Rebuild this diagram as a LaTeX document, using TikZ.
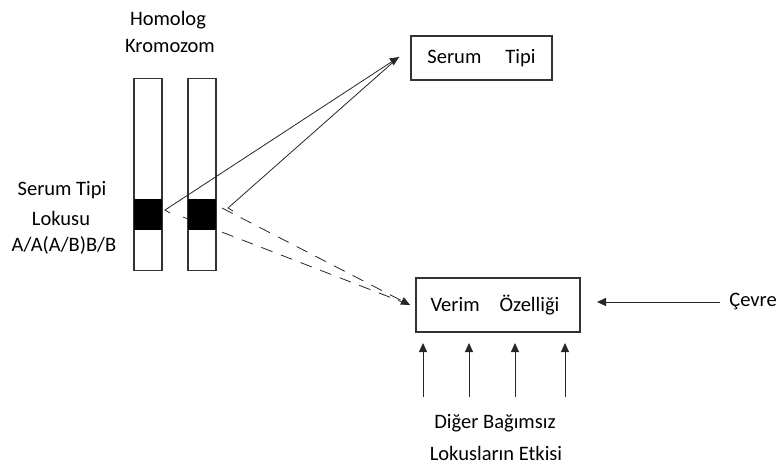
\documentclass[tikz,border=0pt]{standalone}
\usepackage{fontspec}
\setmainfont{Carlito}
\usetikzlibrary{arrows.meta,calc}
\begin{document}
\begin{tikzpicture}[x=1pt,y=-1pt,
  lbl/.style={inner sep=0pt, font=\fontsize{20.5}{24}\selectfont, text=black},
  box/.style={draw=black!80, line width=1.3pt, inner sep=0pt},
  chrom/.style={draw=black!80, line width=1.2pt, fill=white, minimum width=28pt, minimum height=192pt, inner sep=0pt},
  band/.style={fill=black, minimum width=28pt, minimum height=31pt, inner sep=0pt},
  conn/.style={line width=0.8pt, black!85},
  tip/.style={-{Triangle[length=9pt,width=8pt]}},
  dsh/.style={dash pattern=on 12pt off 9pt}]
\useasboundingbox (0,0) rectangle (779,466);

% text labels
\node[lbl] (hom) at (168,20) {Homolog};
\node[lbl] (kro) at (170,46) {Kromozom};
\node[lbl] (stl1) at (62,190) {Serum Tipi};
\node[lbl] (stl2) at (61,218) {Lokusu};
\node[lbl] (stl3) at (64,245) {A/A(A/B)B/B};

% chromosomes
\node[chrom] (c1) at (148,174.5) {};
\node[chrom] (c2) at (202,174.5) {};
\node[band] (b1) at (148,214.5) {};

% boxes
\node[box, minimum width=141pt, minimum height=44pt] (st) at (481.5,58) {};
\node[lbl] at (st.center) {Serum\hspace{24pt}Tipi};
\node[box, minimum width=164pt, minimum height=54pt] (vo) at (498,305) {};
\node[lbl] at ([xshift=-3pt]vo.center) {Verim\hspace{20pt}Özelliği};

\node[lbl] (cev) at (753,302) {Çevre};
\node[lbl] (dig) at (495,423) {Diğer Bağımsız};
\node[lbl] (lok) at (496,453) {Lokusların Etkisi};

% coordinates
\coordinate (s1a) at (170,213);
\coordinate (s1) at (165,210);
\coordinate (s2a) at (233,211);
\coordinate (s2) at (228,208);
\coordinate (tS) at (399,57);
\coordinate (d1) at (183,217);
\coordinate (d2) at (222,208);
\coordinate (tV) at (410,305);

% solid connectors
\draw[conn, tip] (s1a) -- (s1) -- (tS);
\draw[conn] (s2a) -- (s2) -- (tS);

% dashed connectors
\draw[conn, dsh] (d1) -- (tV);
\draw[conn, dsh, tip] (d2) -- (tV);
\node[band] (b2) at (202,214.5) {};

% up arrows
\foreach \x/\n in {423/u1,469/u2,515/u3,565/u4}{
  \coordinate (\n a) at (\x,397);
  \coordinate (\n b) at (\x,343);
  \draw[conn, tip] (\n a) -- (\n b);
}
\coordinate (ca) at (720,302);
\coordinate (cb) at (597,302);
\draw[conn, tip] (ca) -- (cb);
\end{tikzpicture}
\end{document}
